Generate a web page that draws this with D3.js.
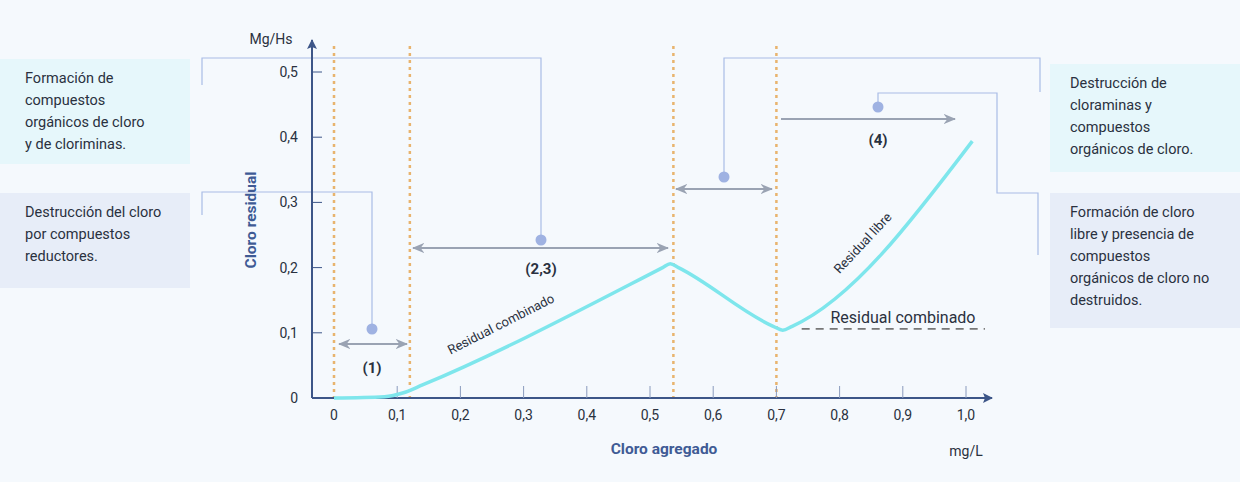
<!DOCTYPE html>
<html>
<head>
<script src="https://d3js.org/d3.v7.min.js"></script>
<style>
  body { margin: 0; background: #f5f9fd; font-family: Roboto, sans-serif; }
</style>
</head>
<body>
<svg id="chart" width="1240" height="482"></svg>
<script>
// data
var xTicks = [0, 0.1, 0.2, 0.3, 0.4, 0.5, 0.6, 0.7, 0.8, 0.9, 1.0];
var yTicks = [0, 0.1, 0.2, 0.3, 0.4, 0.5];
var curveX = [0, 0.08, 0.11, 0.14, 0.52, 0.532, 0.545, 0.695, 0.71, 0.725, 1.01];
var curveY = [0, 0.002, 0.008, 0.02, 0.2, 0.206, 0.2, 0.11, 0.104, 0.11, 0.394];
var phaseLines = [0, 0.12, 0.537, 0.7];
var combinedLevel = 0.106;
var boxTexts = [
  ["Formación de", "compuestos", "orgánicos de cloro", "y de clorimínas."],
  ["Destrucción del cloro", "por compuestos", "reductores."],
  ["Destrucción de", "cloraminas y", "compuestos", "orgánicos de cloro."],
  ["Formación de cloro", "libre y presencia de", "compuestos", "orgánicos de cloro no", "destruidos."]
];
boxTexts[0][3] = "y de clorimínas.".replace("í", "i");

var svg = d3.select("#chart");
var x = d3.scaleLinear().domain([0, 1]).range([334, 966]);
var y = d3.scaleLinear().domain([0, 0.5]).range([398, 72]);
var axisCol = "#3d5688", guide = "#a9bce6", arrowCol = "#9aa3b3";

var defs = svg.append("defs");
function marker(id) {
  defs.append("marker").attr("id", id).attr("viewBox", "0 0 10 10").attr("refX", 9).attr("refY", 5)
    .attr("markerWidth", 7).attr("markerHeight", 7).attr("orient", "auto-start-reverse")
    .append("path").attr("d", "M0,1L10,5L0,9L3,5Z").attr("fill", arrowCol);
}
marker("ar");
defs.append("marker").attr("id", "ax").attr("viewBox", "0 0 10 10").attr("refX", 9).attr("refY", 5)
  .attr("markerWidth", 5).attr("markerHeight", 5).attr("orient", "auto")
  .append("path").attr("d", "M0,0L10,5L0,10L2,5Z").attr("fill", axisCol);

// boxes
var boxes = [
  {x: 0, y: 59, w: 190, h: 105, c: "#e6f7fb"},
  {x: 0, y: 193, w: 190, h: 95, c: "#e7edf8"},
  {x: 1050, y: 64, w: 190, h: 108, c: "#e6f7fb"},
  {x: 1050, y: 193, w: 190, h: 135, c: "#e7edf8"}
];
boxes.forEach(function(b, i) {
  svg.append("rect").attr("x", b.x).attr("y", b.y).attr("width", b.w).attr("height", b.h).attr("fill", b.c);
  var tx = b.x + (i < 2 ? 25 : 20);
  var t0 = b.y + (i < 2 ? 24 : 24);
  svg.append("text").attr("font-size", 14.5).attr("fill", "#2a3140")
    .selectAll("tspan").data(boxTexts[i]).join("tspan")
    .attr("x", tx).attr("y", function(d, j) { return t0 + j * 22; }).text(function(d) { return d; });
});

// dotted phase lines
svg.selectAll(".ph").data(phaseLines).join("line")
  .attr("x1", function(d) { return x(d); }).attr("x2", function(d) { return x(d); })
  .attr("y1", 46).attr("y2", 398)
  .attr("stroke", "#e8b46e").attr("stroke-width", 2.5).attr("stroke-dasharray", "3,4");

// guide brackets
var brackets = [
  [[372, 329], [372, 192], [202, 192], [202, 215]],
  [[541, 240], [541, 58], [202, 58], [202, 85]],
  [[724, 177], [724, 58], [1040, 58], [1040, 92]],
  [[878, 107], [878, 93], [997, 93], [997, 193], [1038, 193], [1038, 255]]
];
brackets.forEach(function(p) {
  svg.append("path").attr("d", d3.line()(p)).attr("fill", "none").attr("stroke", guide).attr("stroke-width", 1.2);
  svg.append("circle").attr("cx", p[0][0]).attr("cy", p[0][1]).attr("r", 5.5).attr("fill", "#9fb2e2");
});

// arrows
var arrows = [
  {a: 339, b: 407, y: 344, both: true, label: "(1)", lx: 372, ly: 373},
  {a: 413, b: 668, y: 248, both: true, label: "(2,3)", lx: 541, ly: 274},
  {a: 676, b: 772, y: 189, both: true, label: "", lx: 0, ly: 0},
  {a: 781, b: 955, y: 119, both: false, label: "(4)", lx: 878, ly: 145}
];
arrows.forEach(function(r) {
  svg.append("line").attr("x1", r.a).attr("x2", r.b).attr("y1", r.y).attr("y2", r.y)
    .attr("stroke", arrowCol).attr("stroke-width", 1.8)
    .attr("marker-end", "url(#ar)").attr("marker-start", r.both ? "url(#ar)" : null);
  if (r.label) svg.append("text").attr("x", r.lx).attr("y", r.ly).attr("text-anchor", "middle")
    .attr("font-size", 15).attr("font-weight", "bold").attr("fill", "#2a3140").text(r.label);
});

// axes
svg.append("line").attr("x1", 312).attr("x2", 312).attr("y1", 398).attr("y2", 40)
  .attr("stroke", axisCol).attr("stroke-width", 2).attr("marker-end", "url(#ax)");
svg.append("line").attr("x1", 312).attr("x2", 992).attr("y1", 398).attr("y2", 398)
  .attr("stroke", axisCol).attr("stroke-width", 2).attr("marker-end", "url(#ax)");

svg.selectAll(".yt").data(yTicks.slice(1)).join("line")
  .attr("x1", 312).attr("x2", 322).attr("y1", function(d) { return y(d); }).attr("y2", function(d) { return y(d); })
  .attr("stroke", axisCol).attr("stroke-width", 1);
svg.selectAll(".yl").data(yTicks).join("text")
  .attr("x", 298).attr("y", function(d) { return y(d) + 5; }).attr("text-anchor", "end")
  .attr("font-size", 14).attr("fill", "#2a3140")
  .text(function(d) { return d === 0 ? "0" : d3.format(".1f")(d).replace(".", ","); });

svg.selectAll(".xt").data(xTicks.slice(1)).join("line")
  .attr("x1", function(d) { return x(d); }).attr("x2", function(d) { return x(d); })
  .attr("y1", 386).attr("y2", 398).attr("stroke", "#8a9bbd").attr("stroke-width", 1);
svg.selectAll(".xl").data(xTicks).join("text")
  .attr("x", function(d) { return x(d); }).attr("y", 420).attr("text-anchor", "middle")
  .attr("font-size", 14).attr("fill", "#2a3140")
  .text(function(d) { return d === 0 ? "0" : d3.format(".1f")(d).replace(".", ","); });

svg.append("text").attr("x", 271).attr("y", 44).attr("text-anchor", "middle").attr("font-size", 14).attr("fill", "#2a3140").text("Mg/Hs");
svg.append("text").attr("x", 966).attr("y", 456).attr("text-anchor", "middle").attr("font-size", 14).attr("fill", "#2a3140").text("mg/L");
svg.append("text").attr("x", 664).attr("y", 454).attr("text-anchor", "middle").attr("font-size", 15.5)
  .attr("font-weight", "bold").attr("fill", "#3f5b95").text("Cloro agregado");
svg.append("text").attr("transform", "translate(256,220) rotate(-90)").attr("text-anchor", "middle")
  .attr("font-size", 15.5).attr("font-weight", "bold").attr("fill", "#3f5b95").text("Cloro residual");

// combined dashed level
svg.append("line").attr("x1", x(0.74)).attr("x2", x(1.03)).attr("y1", y(combinedLevel)).attr("y2", y(combinedLevel))
  .attr("stroke", "#777", "").attr("stroke-width", 1.6).attr("stroke-dasharray", "8,6");

// curve
var pts = curveX.map(function(v, i) { return [v, curveY[i]]; });
svg.append("path").datum(pts)
  .attr("d", d3.line().x(function(d) { return x(d[0]); }).y(function(d) { return y(d[1]); }).curve(d3.curveMonotoneX))
  .attr("fill", "none").attr("stroke", "#7ee6ec").attr("stroke-width", 3.5);

svg.append("text").attr("x", 903).attr("y", 323).attr("text-anchor", "middle").attr("font-size", 16).attr("fill", "#2a3140").text("Residual combinado");
svg.append("text").attr("transform", "translate(503,328) rotate(-27)").attr("text-anchor", "middle")
  .attr("font-size", 13).attr("fill", "#2a3140").text("Residual combinado");
svg.append("text").attr("transform", "translate(866,246) rotate(-47)").attr("text-anchor", "middle")
  .attr("font-size", 13).attr("fill", "#2a3140").text("Residual libre");
</script>
</body>
</html>
